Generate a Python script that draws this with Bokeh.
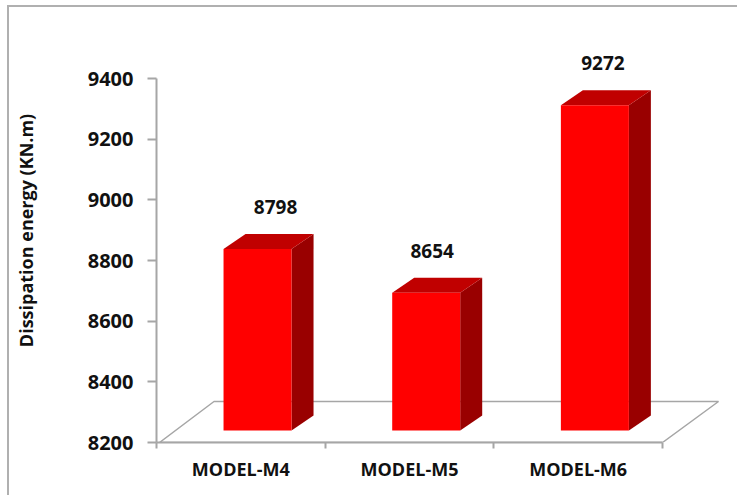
from bokeh.plotting import figure
from bokeh.models import ColumnDataSource, FixedTicker, LinearAxis, Range1d
from bokeh.core.properties import value
from bokeh.embed import file_html
from bokeh.resources import INLINE

categories = ["MODEL-M4", "MODEL-M5", "MODEL-M6"]
energy = [8798, 8654, 9272]
y_ticks = [8200, 8400, 8600, 8800, 9000, 9200, 9400]
y_min, y_max = 8200, 9400
label_dx = [18, 6, 8]

FONT = "Open Sans"
GRAY = "#A6A6A6"
TXT = "#111111"
OX, OY = 9, 7            # where the canvas starts on the page
W, H = 737 - OX + 2, 495 - OY + 2
L, R, T, B = 156 - OX, 725 - OX, 18 - OY, 442 - OY
px_x = 168.67            # pixels per category
px_y = (442 - 78) / (y_max - y_min)   # pixels per data unit
ux = lambda px: px / px_x
uy = lambda px: px / px_y

p = figure(width=W, height=H, output_backend="svg", toolbar_location=None,
           x_range=Range1d(0, (R - L) / px_x), y_range=Range1d(y_min, y_min + (B - T) / px_y),
           min_border_left=L, min_border_right=W - R, min_border_top=T, min_border_bottom=H - B,
           margin=(5, 0, 0, 7), outline_line_color=None, background_fill_color="white",
           border_fill_color="white",
           styles={"border-top": "2px solid #B0B0B0", "border-left": "2px solid #B0B0B0"})
p.grid.visible = False
p.xaxis.visible = False

# Y axis
ya = p.yaxis[0]
ya.bounds = (y_min, y_max)
ya.ticker = FixedTicker(ticks=y_ticks)
ya.minor_tick_line_color = None
ya.axis_line_color = GRAY
ya.axis_line_width = 2
ya.major_tick_line_color = GRAY
ya.major_tick_line_width = 2
ya.major_tick_in = 0
ya.major_tick_out = 9
ya.major_label_standoff = 14
ya.major_label_text_font = FONT
ya.major_label_text_font_style = "bold"
ya.major_label_text_font_size = "20px"
ya.major_label_text_color = TXT
ya.axis_label = "Dissipation energy (KN.m)"
ya.axis_label_text_font = FONT
ya.axis_label_text_font_style = "bold"
ya.axis_label_text_font_size = "18px"
ya.axis_label_text_color = TXT
ya.axis_label_standoff = 47

# X axis: tick marks at the category edges, labels at their centres
n = len(categories)
xa = LinearAxis(bounds=(0, n), ticker=FixedTicker(ticks=list(range(n + 1))),
                major_label_text_color=None, major_label_text_font_size="1px",
                axis_line_color=GRAY, axis_line_width=2,
                major_tick_line_color=GRAY, major_tick_line_width=2,
                major_tick_in=0, major_tick_out=6, minor_tick_line_color=None)
p.add_layout(xa, "below")
xl = LinearAxis(ticker=FixedTicker(ticks=[i + 0.5 for i in range(n)]),
                major_label_overrides={i + 0.5: c for i, c in enumerate(categories)},
                axis_line_color=None, major_tick_line_color=None, minor_tick_line_color=None,
                major_label_standoff=2, major_label_text_font=FONT,
                major_label_text_font_style="bold", major_label_text_font_size="18px",
                major_label_text_color=TXT)
p.add_layout(xl, "below")

# Floor of the 3-D box
floor_x0, floor_dx, floor_dy = ux(3), ux(54.5), uy(41)
p.patch([floor_x0, floor_x0 + floor_dx, n + floor_x0 + floor_dx - ux(1.5), n],
        [y_min, y_min + floor_dy, y_min + floor_dy, y_min],
        fill_color="white", line_color=GRAY, line_width=1.5)

# Bars
bw, off_x, base_dy, dep_x, dep_y = ux(68), ux(16.7), uy(12), ux(22), uy(15)
front, top, side = {"x": [], "y": []}, {"x": [], "y": []}, {"x": [], "y": []}
lx, ly = [], []
for i, v in enumerate(energy):
    x0 = i + 0.5 + off_x - bw / 2
    x1 = x0 + bw
    y0 = y_min + base_dy
    y1 = v + base_dy
    front["x"].append([x0, x1, x1, x0]); front["y"].append([y0, y0, y1, y1])
    top["x"].append([x0, x1, x1 + dep_x, x0 + dep_x]); top["y"].append([y1, y1, y1 + dep_y, y1 + dep_y])
    side["x"].append([x1, x1 + dep_x, x1 + dep_x, x1]); side["y"].append([y0, y0 + dep_y, y1 + dep_y, y1])
    lx.append(i + 0.5 + off_x + ux(label_dx[i]))
    ly.append(y1 + dep_y + uy(27))
p.patches("x", "y", source=ColumnDataSource(side), fill_color="#990000", line_color=None)
p.patches("x", "y", source=ColumnDataSource(top), fill_color="#C00000", line_color=None)
p.patches("x", "y", source=ColumnDataSource(front), fill_color="#FF0000", line_color=None)

p.text(x=lx, y=ly, text=[str(v) for v in energy], text_align="center", text_baseline="middle",
       text_font=value(FONT), text_font_style="bold", text_font_size="19px", text_color=TXT)

open("out.html", "w").write(file_html(p, INLINE))
